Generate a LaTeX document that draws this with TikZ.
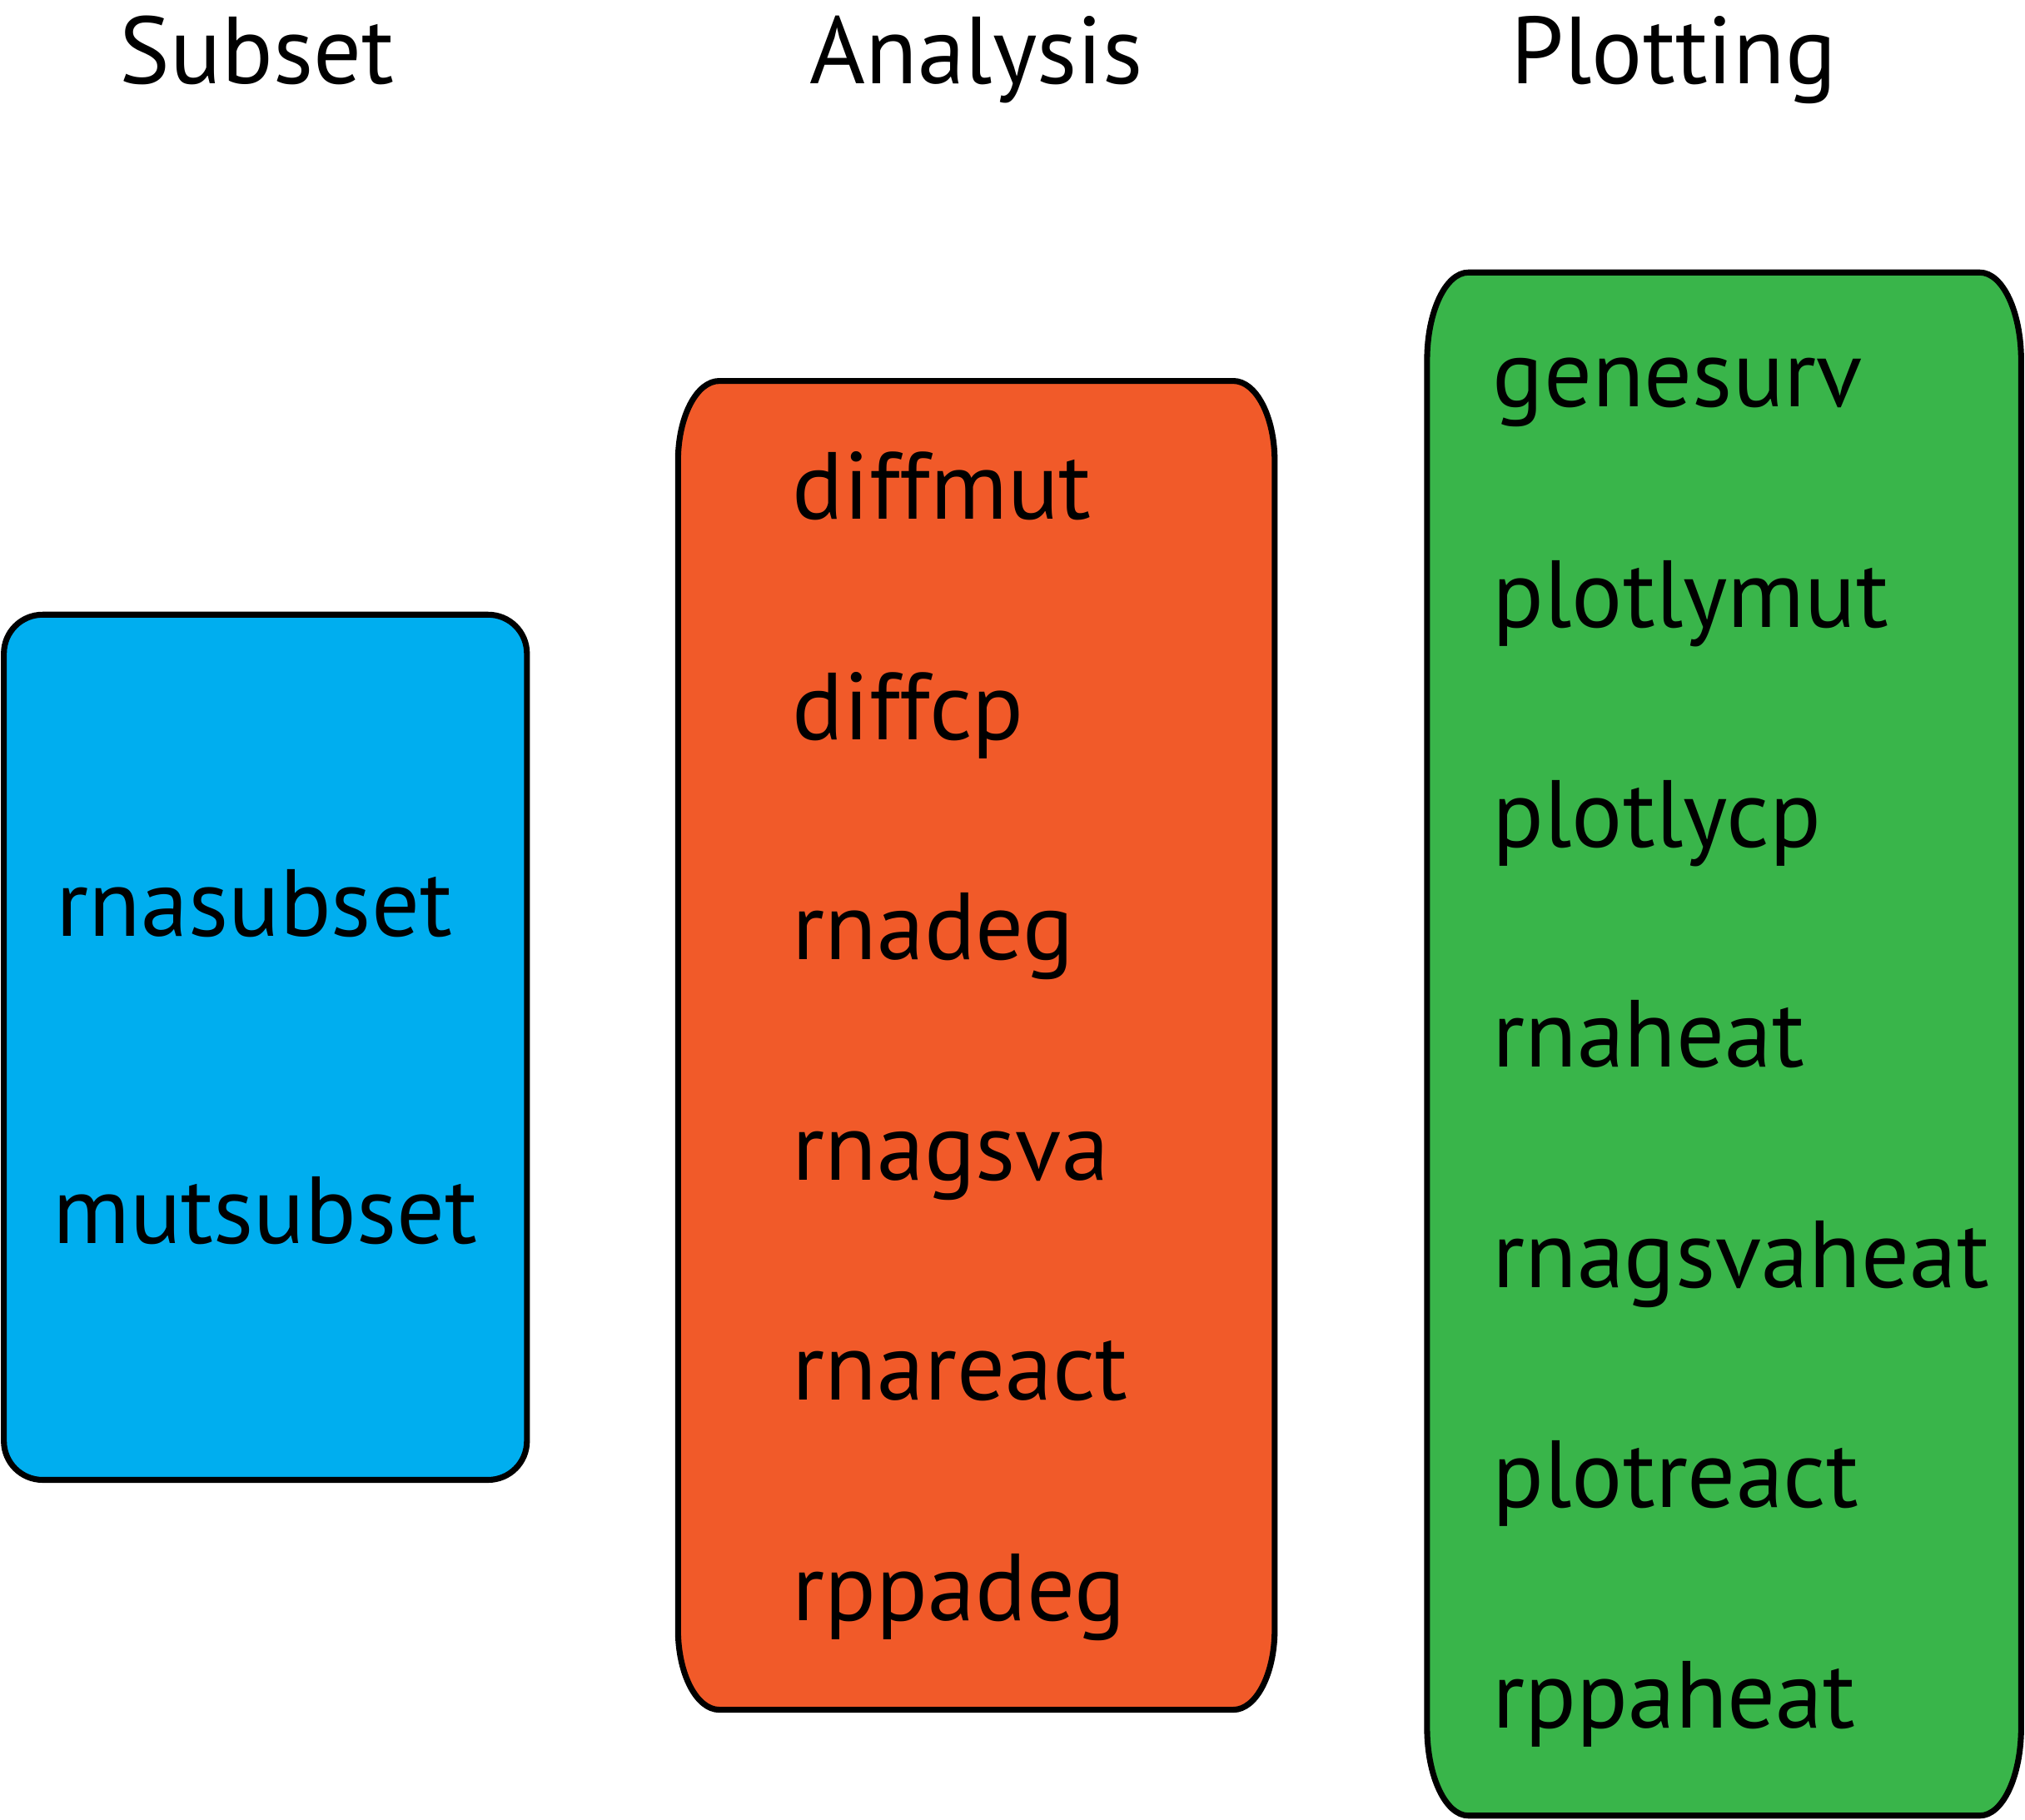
\documentclass[tikz,border=0pt]{standalone}
\usepackage{fontspec}
\setmainfont{PT Sans}

\definecolor{subsetblue}{HTML}{00AEEF}
\definecolor{analysisorange}{HTML}{F15A29}
\definecolor{plotgreen}{HTML}{39B54A}

% box with elliptic corners: left, bottom, right, top, x radius, y radius, colour
\newcommand{\softbox}[7]{%
  \filldraw[fill=#7, line width=1.3pt]
    ({#1},{#2+#6}) arc[start angle=180, end angle=270, x radius=#5, y radius=#6]
    -- ({#3-#5},{#2}) arc[start angle=270, end angle=360, x radius=#5, y radius=#6]
    -- ({#3},{#4-#6}) arc[start angle=0, end angle=90, x radius=#5, y radius=#6]
    -- ({#1+#5},{#4}) arc[start angle=90, end angle=180, x radius=#5, y radius=#6]
    -- cycle;}

\begin{document}
\begin{tikzpicture}[
  title/.style={font=\fontsize{21}{25}\selectfont, anchor=base, inner sep=0pt},
  item/.style={font=\fontsize{21}{25}\selectfont, anchor=base west, inner sep=0pt}]
  \useasboundingbox (0,0) rectangle (15.68,-14.09);

  % column headings
  \node[title] (subset) at (1.99,-0.65) {Subset};
  \node[title] (analysis) at (7.56,-0.65) {Analysis};
  \node[title] (plotting) at (12.96,-0.65) {Plotting};

  % boxes
  \softbox{0.03}{-11.46}{4.08}{-4.76}{0.3}{0.3}{subsetblue}
  \softbox{5.25}{-13.24}{9.87}{-2.95}{0.32}{0.62}{analysisorange}
  \softbox{11.05}{-14.06}{15.65}{-2.11}{0.32}{0.68}{plotgreen}

  % subset functions
  \node[item] (rnasubset) at (0.43,-7.25) {rnasubset};
  \node[item] (mutsubset) at (0.40,-9.63) {mutsubset};

  % analysis functions
  \foreach \fn [count=\i from 0] in {diffmut,diffcp,rnadeg,rnagsva,rnareact,rppadeg}
    \node[item] (\fn) at (6.13,{-4.02-1.706*\i}) {\fn};

  % plotting functions
  \foreach \fn [count=\i from 0] in {genesurv,plotlymut,plotlycp,rnaheat,rnagsvaheat,plotreact,rppaheat}
    \node[item] (\fn) at (11.55,{-3.15-1.705*\i}) {\fn};
\end{tikzpicture}
\end{document}
